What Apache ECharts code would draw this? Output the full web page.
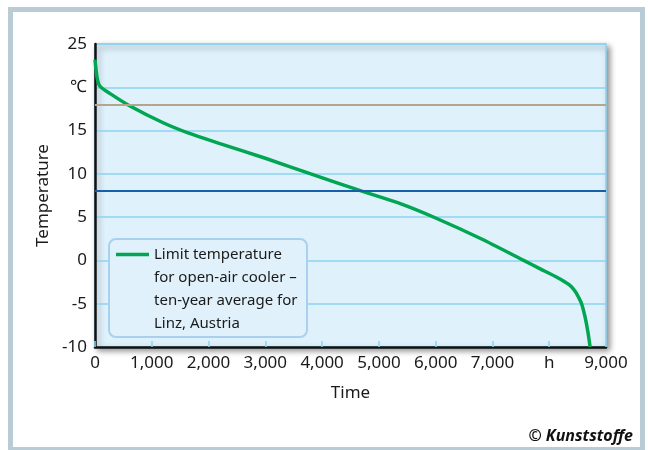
<!DOCTYPE html>
<html>
<head>
<meta charset="utf-8">
<script src="https://cdn.jsdelivr.net/npm/echarts@6/dist/echarts.min.js"></script>
<style>
  html, body { margin: 0; padding: 0; background: #fff; }
  #chart { width: 648px; height: 450px; }
</style>
</head>
<body>
<div id="chart"></div>
<script>
  // Operating hours (h) per year above the given temperature
  const hours = [0, 40, 90, 260, 600, 1200, 1650, 2200, 3000, 3800, 4700, 5400, 6000, 6800, 7550, 7850, 8150, 8350, 8450, 8520, 8570, 8630, 8680, 8720];
  const temps = [23.2, 21.0, 20.1, 19.3, 17.9, 15.9, 14.7, 13.5, 11.8, 10.0, 8.0, 6.5, 4.9, 2.5, 0, -1.0, -2.0, -2.8, -3.5, -4.3, -5.0, -6.5, -8.2, -10];
  const refLines = [18, 8];
  const seriesName = 'Limit temperature\nfor open-air cooler \u2013\nten-year average for\nLinz, Austria';

  const FONT = 'Noto Sans';
  const points = hours.map((h, i) => [h, temps[i]]);

  const option = {
    animation: false,
    textStyle: { fontFamily: FONT },
    grid: {
      left: 95, right: 42, top: 44, bottom: 103,
      show: true,
      backgroundColor: '#dff1fb',
      borderColor: '#8dd3f1',
      borderWidth: 1.5,
      shadowColor: 'rgba(0,0,0,0.45)',
      shadowBlur: 6,
      shadowOffsetX: 3,
      shadowOffsetY: 3
    },
    legend: {
      left: 116,
      top: 174,
      padding: 0,
      z: 6,
      itemWidth: 33,
      itemHeight: 3.5,
      itemGap: 0,
      icon: 'rect',
      selectedMode: false,
      data: [{ name: seriesName, itemStyle: { color: '#00a651' } }],
      // leading blank lines keep the first text line level with the icon
      formatter: name => '\n\n\n' + name,
      textStyle: {
        fontFamily: FONT,
        fontSize: 15,
        lineHeight: 23,
        color: '#1a1a1a'
      }
    },
    xAxis: {
      type: 'value',
      min: 0, max: 9000, interval: 1000,
      name: 'Time',
      nameLocation: 'middle',
      nameGap: 38,
      nameTextStyle: { fontSize: 17, color: '#1a1a1a' },
      axisLine: { show: true, onZero: false, lineStyle: { color: '#111', width: 2.5 } },
      axisTick: { show: true, inside: true, length: 6, lineStyle: { color: '#8dd3f1', width: 1.5 } },
      splitLine: { show: false },
      axisLabel: {
        fontSize: 17, color: '#1a1a1a', margin: 8,
        formatter: v => v === 8000 ? 'h' : v.toLocaleString('en-US')
      }
    },
    yAxis: {
      type: 'value',
      min: -10, max: 25, interval: 5,
      name: 'Temperature',
      nameLocation: 'middle',
      nameGap: 43,
      nameTextStyle: { fontSize: 17, color: '#1a1a1a' },
      axisLine: { show: true, onZero: false, lineStyle: { color: '#111', width: 2.5 } },
      axisTick: { show: false },
      splitLine: { show: true, lineStyle: { color: '#8dd3f1', width: 1.5 } },
      axisLabel: {
        fontSize: 17, color: '#1a1a1a', margin: 8,
        formatter: v => v === 20 ? '\u2103' : String(v)
      }
    },
    graphic: [
      {
        type: 'rect', z: 0, silent: true,
        shape: { x: 10.5, y: 9.5, width: 632, height: 440 },
        style: { fill: 'none', stroke: '#b9ccd6', lineWidth: 5 }
      },
      {
        type: 'rect', z: 4, silent: true,
        shape: { x: 109, y: 239, width: 198, height: 98, r: 7 },
        style: { fill: '#e0f1fb', stroke: '#a9d1ef', lineWidth: 2 }
      },
      {
        type: 'text', z: 4, silent: true,
        right: 15, top: 428,
        style: {
          text: '\u00a9 Kunststoffe',
          font: 'italic bold 16px "Noto Sans"',
          fill: '#111'
        }
      }
    ],
    series: [
      {
        name: seriesName,
        type: 'line',
        data: points,
        smooth: 0.25,
        showSymbol: false,
        symbol: 'none',
        lineStyle: { color: '#00a651', width: 3.5 },
        itemStyle: { color: '#00a651' },
        z: 3,
        markLine: {
          silent: true,
          symbol: 'none',
          label: { show: false },
          data: [
            { yAxis: refLines[0], lineStyle: { color: '#b4a68b', width: 2, type: 'solid' } },
            { yAxis: refLines[1], lineStyle: { color: '#1560a8', width: 2, type: 'solid' } }
          ]
        }
      }
    ]
  };

  const chart = echarts.init(document.getElementById('chart'));
  chart.setOption(option);
</script>
</body>
</html>
